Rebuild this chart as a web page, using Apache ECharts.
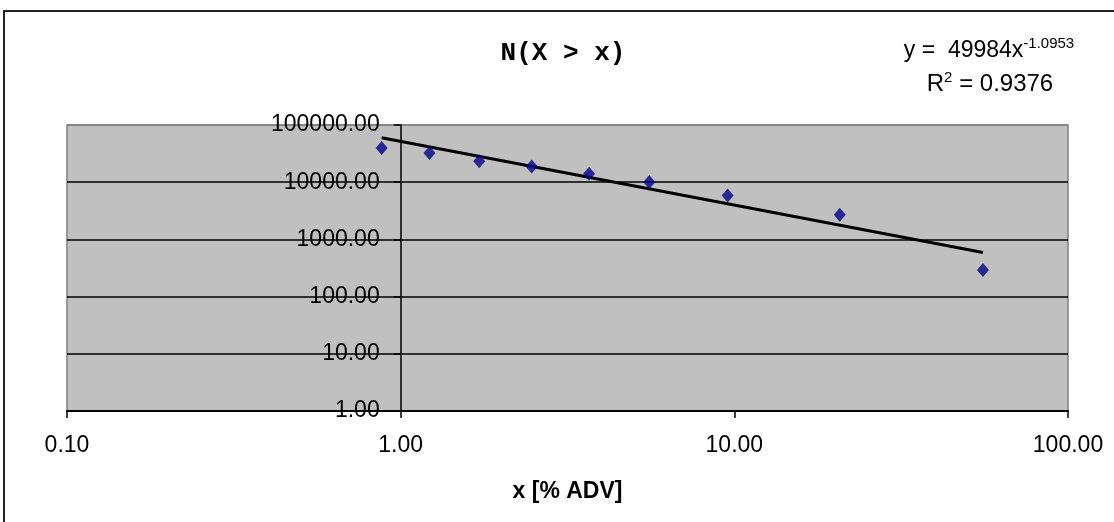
<!DOCTYPE html>
<html>
<head>
<meta charset="utf-8">
<style>
  html, body { margin: 0; padding: 0; background: #fff; }
  #chart { width: 1114px; height: 522px; }
</style>
</head>
<body>
<div id="chart"></div>
<script src="https://cdn.jsdelivr.net/npm/echarts@6/dist/echarts.min.js"></script>
<script>
// points
const xVals = [0.877, 1.22, 1.72, 2.47, 3.67, 5.56, 9.55, 20.7, 55.6];
const nVals = [39800, 32500, 23200, 18900, 14100, 10100, 5860, 2690, 292];
// power trendline, end points
const trendX = [0.877, 55.6];
const trendY = [60000, 590];
const xTicks = [0.1, 1, 10, 100];

const chart = echarts.init(document.getElementById('chart'));
const font = 'Liberation Sans, Arial, sans-serif';

const option = {
  animation: false,
  grid: {
    left: 67, right: 46, top: 125, bottom: 111,
    show: true,
    backgroundColor: '#C0C0C0',
    borderColor: '#808080',
    borderWidth: 1.5
  },
  xAxis: {
    type: 'log', logBase: 10, min: 0.1, max: 100,
    name: 'x [% ADV]',
    nameLocation: 'middle',
    nameGap: 69,
    nameTextStyle: { fontFamily: font, fontSize: 23, fontWeight: 'bold', color: '#000' },
    axisLine: { lineStyle: { color: '#000', width: 2 } },
    axisTick: { length: 7, lineStyle: { color: '#000', width: 1.5 } },
    axisLabel: {
      margin: 23, fontFamily: font, fontSize: 23, color: '#000',
      formatter: v => xTicks.some(t => Math.abs(t - v) < 1e-9) ? v.toFixed(2) : ''
    },
    splitLine: { show: false },
    minorTick: { show: false }
  },
  yAxis: {
    type: 'log', logBase: 10, min: 1, max: 100000,
    position: 'left',
    offset: -333.7,
    axisLine: { show: true, lineStyle: { color: '#000', width: 1.5 } },
    axisTick: { show: true, length: 7, lineStyle: { color: '#000', width: 1.5 } },
    axisLabel: {
      margin: 21, fontFamily: font, fontSize: 23, color: '#000',
      formatter: v => v.toFixed(2)
    },
    splitLine: {
      show: true,
      lineStyle: { color: ['#000', '#000', '#000', '#000', '#000', '#808080'], width: 1.5 }
    }
  },
  graphic: [
    {
      type: 'rect', z: -1,
      shape: { x: 4, y: 11, width: 1200, height: 600 },
      style: { fill: '#fff', stroke: '#222', lineWidth: 2 }
    },
    {
      type: 'text', x: 563, y: 53,
      style: {
        text: 'N(X > x)', fontFamily: 'Liberation Mono, Courier New, monospace',
        fontSize: 26, fontWeight: 'bold', fill: '#000',
        align: 'center', verticalAlign: 'middle'
      }
    },
    {
      type: 'text', x: 989, y: 51,
      style: {
        text: '{a|y =  49984x}{s|-1.0953}',
        align: 'center', verticalAlign: 'middle',
        rich: {
          a: { fontFamily: font, fontSize: 23, fill: '#000' },
          s: { fontFamily: font, fontSize: 15, fill: '#000', padding: [0, 0, 15, 0] }
        }
      }
    },
    {
      type: 'text', x: 990, y: 84,
      style: {
        text: '{a|R}{s|2}{a| = 0.9376}',
        align: 'center', verticalAlign: 'middle',
        rich: {
          a: { fontFamily: font, fontSize: 24, fill: '#000' },
          s: { fontFamily: font, fontSize: 15, fill: '#000', padding: [0, 0, 13, 0] }
        }
      }
    }
  ],
  series: [
    {
      type: 'line',
      data: trendX.map((x, i) => [x, trendY[i]]),
      showSymbol: false,
      symbol: 'none',
      lineStyle: { color: '#000', width: 3 },
      z: 3
    },
    {
      type: 'scatter',
      data: xVals.map((x, i) => [x, nVals[i]]),
      symbol: 'diamond',
      symbolSize: [12, 14],
      itemStyle: { color: '#00008B' },
      z: 4
    }
  ]
};
chart.setOption(option);
</script>
</body>
</html>
